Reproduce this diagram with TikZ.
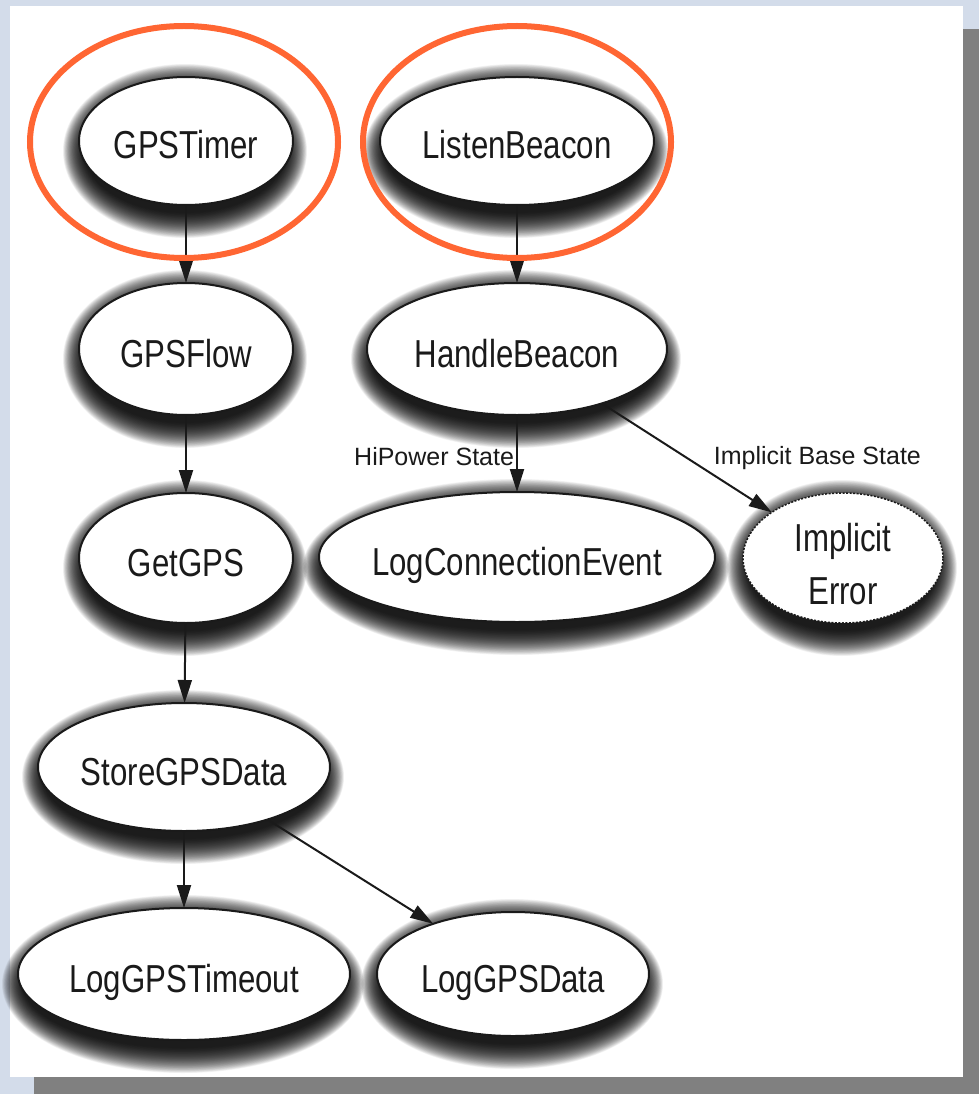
\documentclass[tikz,border=0pt]{standalone}
\usepackage{fontspec}
\setmainfont{Liberation Sans}
\newfontfamily\nodefont[FakeStretch=0.8]{Liberation Sans}
\usetikzlibrary{arrows.meta,shapes.geometric}

\definecolor{pagebg}{RGB}{211,220,234}
\definecolor{panelshadow}{RGB}{128,128,128}
\definecolor{ring}{RGB}{255,102,51}
\definecolor{ink}{RGB}{26,26,26}

\pgfdeclarelayer{paper}
\pgfdeclarelayer{shade}
\pgfsetlayers{paper,shade,main}

% soft drop shadow under a state: stacked translucent ellipses
\newcommand\castshadow[4]{%
  \begin{pgfonlayer}{shade}
    \foreach \k in {0,...,39}{
      \fill[black, opacity=0.046] (#1-1,#2+10)
        ellipse [x radius={#3+15-\k*21/39}, y radius={#4+23-\k*25/39}];
    }
  \end{pgfonlayer}}

% state node: [style]{name}{x}{y}{rx}{ry}{text}
\newcommand\gnode[7][]{%
  \castshadow{#3}{#4}{#5}{#6}%
  \node[graphnode, minimum width={2*#5pt}, minimum height={2*#6pt}, #1] (#2) at (#3,#4) {#7};}

\begin{document}
\begin{tikzpicture}[x=1pt,y=-1pt,
  graphnode/.style={ellipse, draw=ink, line width=2pt, fill=white,
    inner sep=0pt, outer sep=0pt, text=ink,
    font=\nodefont\fontsize{39}{47}\selectfont,
    text height=36pt, text depth=0pt,
    execute at begin node={\hbox to 0pt\bgroup\hss},
    execute at end node={\hss\egroup}},
  flow/.style={draw=ink, line width=2pt, -{Triangle[length=23pt,width=14pt]}},
  edgelabel/.style={font=\fontsize{25}{30}\selectfont, text=ink, inner sep=2pt},
  ringline/.style={draw=ring, line width=6pt}]

\useasboundingbox (0,0) rectangle (979,1094);

% slide background and paper sheet
\begin{pgfonlayer}{paper}
  \fill[pagebg] (0,0) rectangle (979,1094);
  \fill[panelshadow] (34,29) rectangle (979,1094);
  \fill[white] (10,6) rectangle (963,1077);
\end{pgfonlayer}

% states
\gnode{gt}{186}{141}{107}{64}{GPSTimer}
\gnode{lb}{517}{141}{137}{64}{ListenBeacon}
\gnode{gf}{186}{349}{107}{66}{GPSFlow}
\gnode{hb}{517}{349}{150}{66}{HandleBeacon}
\gnode{gg}{186}{558}{107}{65}{GetGPS}
\gnode{lce}{517}{557}{198}{65}{LogConnectionEvent}
\gnode[dash pattern=on 2pt off 1.5pt, line width=1.5pt,
  font=\nodefont\fontsize{39}{53}\selectfont]{ie}{843}{558}{100}{65}%
  {\raisebox{25pt}{\begin{tabular}[t]{@{}c@{}}Implicit\\Error\end{tabular}}}
\gnode{sgd}{184}{767}{146}{64}{StoreGPSData}
\gnode{lgt}{184}{974}{166}{66}{LogGPSTimeout}
\gnode{lgd}{513}{974}{136}{62}{LogGPSData}

% transitions
\draw[flow] (gt) -- (gf);
\draw[flow] (gf) -- (gg);
\draw[flow] (gg) -- (sgd);
\draw[flow] (sgd) -- (lgt);
\draw[flow] (sgd) -- (lgd);
\draw[flow] (lb) -- (hb);
\draw[flow] (hb) -- node[edgelabel, pos=0.545, anchor=east] (lhi) {HiPower State} (lce);
\draw[flow] (hb) -- node[edgelabel, pos=0.5, anchor=west, xshift=24pt] (lib) {Implicit Base State} (ie);

% highlighted entry points
\draw[ringline] (184,142) ellipse [x radius=154, y radius=116];
\draw[ringline] (517,142) ellipse [x radius=154, y radius=116];
\end{tikzpicture}
\end{document}
